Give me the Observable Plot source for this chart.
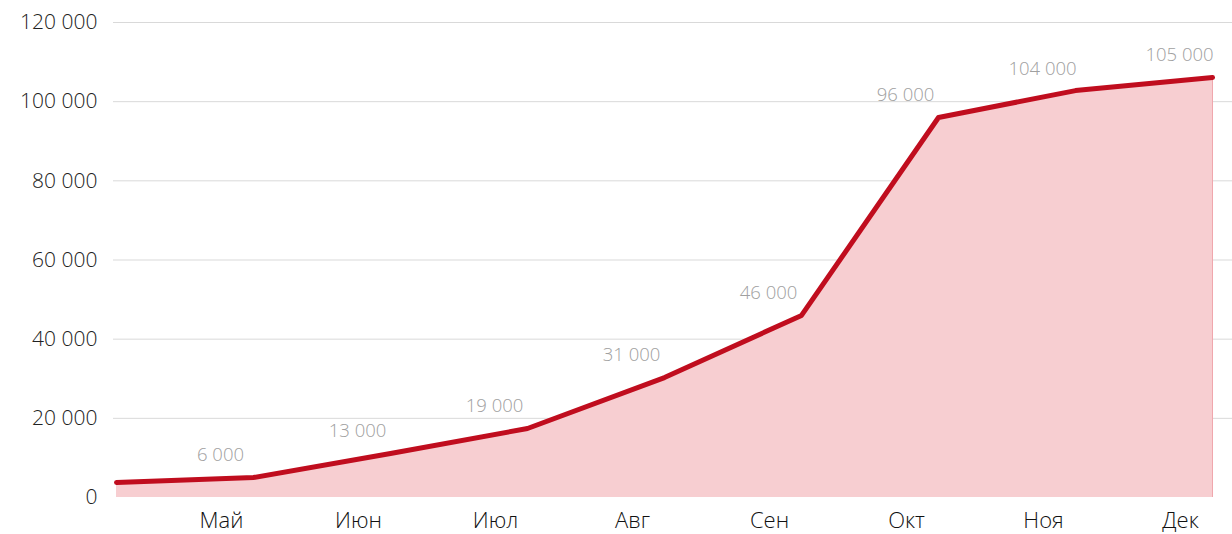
<!DOCTYPE html>
<html><head><meta charset="utf-8">
<script src="https://cdn.jsdelivr.net/npm/d3@7"></script>
<script src="https://cdn.jsdelivr.net/npm/@observablehq/plot@0.6"></script>
<style>
html,body{margin:0;padding:0;background:#fff;}
svg{font-family:"Open Sans",sans-serif;}
</style>
</head><body><div id="chart"></div>
<script>
const months = ["Апр","Май","Июн","Июл","Авг","Сен","Окт","Ноя","Дек"];
const values = [3800, 5050, 11100, 17430, 30300, 46000, 96000, 102800, 106100];
const labels = [null, 6000, 13000, 19000, 31000, 46000, 96000, 104000, 105000];
const yTicks = [0, 20000, 40000, 60000, 80000, 100000, 120000];
const tickMonths = months.slice(1);

const data = months.map((m, i) => ({month: m, value: values[i], label: labels[i]}));
const fmt = v => d3.format(",")(v).replace(/,/g, "\u00a0");

const chart = Plot.plot({
  width: 1232,
  height: 534,
  marginLeft: 113,
  marginRight: 0,
  marginTop: 22,
  marginBottom: 37,
  style: {fontFamily: "'Open Sans', sans-serif", background: "#fff"},
  x: {type: "point", domain: months, range: [115, 1212], padding: 0, label: null},
  y: {domain: [0, 120000], range: [497, 22], label: null},
  marks: [
    Plot.ruleY(yTicks.slice(1), {stroke: "#d9d9d9", strokeWidth: 1}),
    Plot.axisY({ticks: yTicks, tickSize: 0, tickPadding: 16, tickFormat: fmt, fontSize: 21, fill: "#222", fontWeight: 300, label: null}),
    Plot.axisX({ticks: tickMonths, tickSize: 0, tickPadding: 15, dx: -32, fontSize: 22, fill: "#111", fontWeight: 300, label: null}),
    Plot.areaY(data, {x: "month", y: "value", fill: "#f7ced1", fillOpacity: 1}),
    Plot.ruleX([months[months.length - 1]], {y1: 0, y2: values[values.length - 1], stroke: "#f0a7ad", strokeWidth: 1}),
    Plot.lineY(data, {x: "month", y: "value", stroke: "#c00d1e", strokeWidth: 5, strokeLinejoin: "round"}),
    Plot.text(data.filter(d => d.label != null), {x: "month", y: "value", text: d => fmt(d.label), dx: -33, dy: -22, fontSize: 18.5, fill: "#a0a0a0", fontWeight: 300})
  ]
});
document.getElementById("chart").appendChild(chart);
</script>
</body></html>
